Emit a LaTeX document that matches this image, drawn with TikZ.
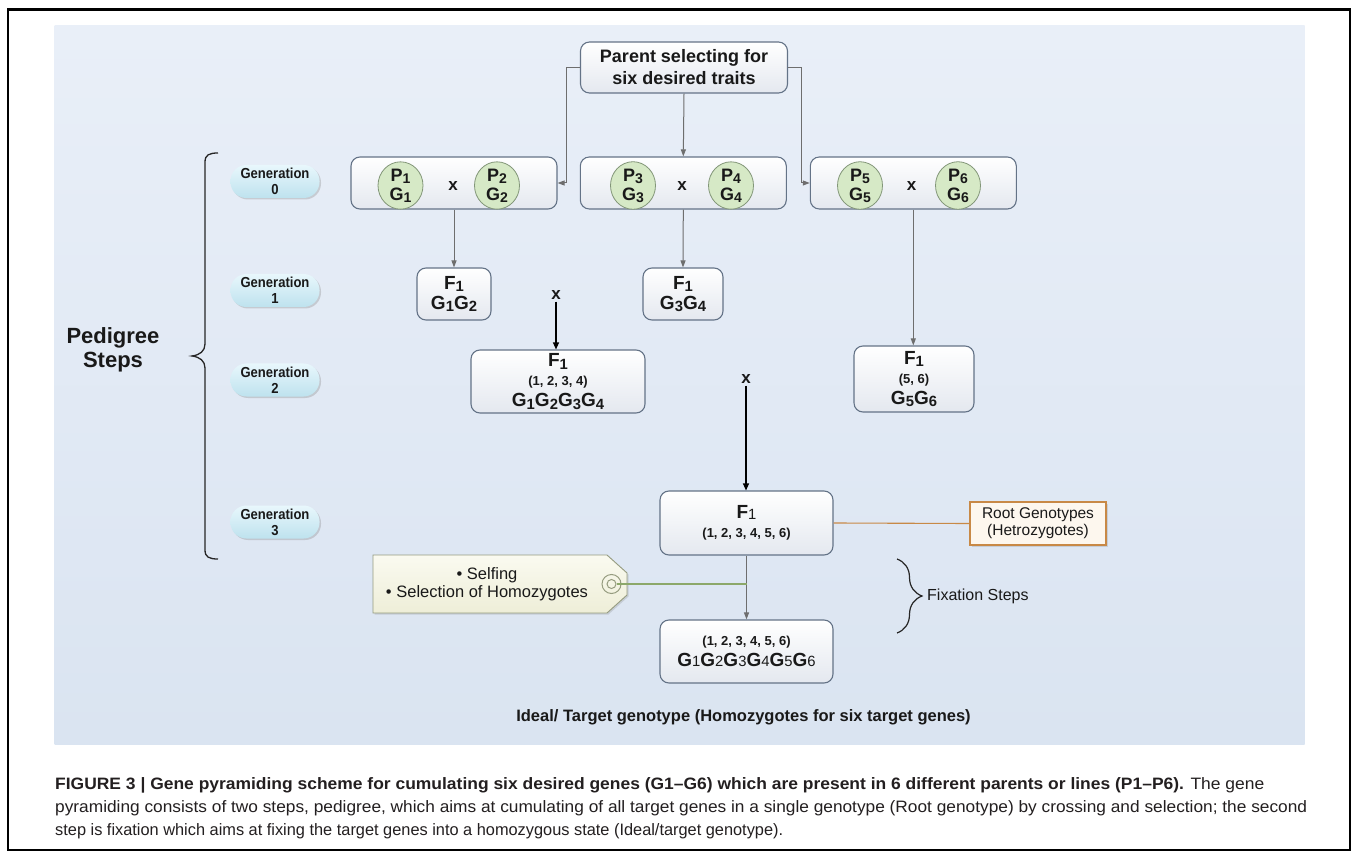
\documentclass[tikz,border=0pt]{standalone}
\usepackage{fontspec}
\setmainfont{Liberation Sans}
\newfontfamily\condfont[FakeStretch=0.9]{Liberation Sans}
\usetikzlibrary{arrows.meta,decorations.pathreplacing,shadows,shapes.geometric}

\definecolor{panelT}{RGB}{233,239,248}
\definecolor{panelB}{RGB}{218,228,241}
\definecolor{boxline}{RGB}{100,115,135}
\definecolor{boxbot}{RGB}{228,232,239}
\definecolor{connc}{RGB}{110,110,110}
\definecolor{circfill}{RGB}{214,233,198}
\definecolor{circline}{RGB}{130,150,120}
\definecolor{genT}{RGB}{232,247,252}
\definecolor{genB}{RGB}{190,226,238}
\definecolor{rootline}{RGB}{200,137,70}
\definecolor{rootfill}{RGB}{253,247,238}
\definecolor{tagT}{RGB}{250,250,240}
\definecolor{tagB}{RGB}{238,238,216}
\definecolor{tagline}{RGB}{150,156,128}
\definecolor{taglink}{RGB}{140,168,106}
\definecolor{captxt}{RGB}{35,31,32}
\definecolor{txt}{RGB}{25,25,25}

\newcommand\dn[1]{\raisebox{-0.22ex}{\scalebox{0.78}{#1}}}
\newcommand\dnr[1]{\raisebox{-0.05ex}{\scalebox{0.78}{\mdseries #1}}}
\newcommand\fsz[2]{\fontsize{#1}{#2}\selectfont}

\tikzset{
  stepbox/.style={draw=boxline, line width=1.1pt, rounded corners=9pt, top color=white,
    bottom color=boxbot, inner sep=0pt, align=center, text=txt, font=\fsz{19}{20}\bfseries},
  pcirc/.style={ellipse, draw=circline, line width=0.8pt, fill=circfill, minimum width=45pt,
    minimum height=40pt, inner sep=0pt, align=center, text=txt, font=\fsz{18}{19}\bfseries},
  genlab/.style={rounded corners=16pt, minimum width=89pt, minimum height=33pt,
    top color=genT, bottom color=genB, align=center, text=txt,
    font=\condfont\fsz{14.5}{16}\bfseries,
    inner sep=0pt, drop shadow={shadow xshift=1.5pt, shadow yshift=-1.5pt, opacity=0.3}},
  conn/.style={draw=connc, line width=1pt, -{Triangle[length=7pt,width=5pt]}},
  xarrow/.style={draw=black, line width=1.2pt, -{Triangle[length=7pt,width=6pt]}},
  crossx/.style={font=\fsz{17}{17}\bfseries, inner sep=0pt, text=txt},
  capline/.style={anchor=base west, inner sep=0pt, text=captxt, font=\fsz{16.5}{16}},
}

\begin{document}
\begin{tikzpicture}[x=1pt,y=-1pt]
\useasboundingbox (0,0) rectangle (1357,858);
\fill[white] (0,0) rectangle (1357,858);
\fill[top color=panelT, bottom color=panelB] (54.5,26) rectangle (1304.6,744);
\draw[line width=2.5pt] (8,9.5) rectangle (1350,850);

% top
\node[stepbox, minimum width=207pt, minimum height=51pt, font=\fsz{18}{22}\bfseries] (parent) at (684,67.5) {Parent selecting for\\six desired traits};

% generation 0
\node[stepbox, minimum width=206pt, minimum height=52pt] (b1) at (454,183) {};
\node[stepbox, minimum width=206pt, minimum height=52pt] (b2) at (683.3,183) {};
\node[stepbox, minimum width=206pt, minimum height=52pt] (b3) at (913.3,183) {};
\node[pcirc] (p1) at (400.5,185.5) {P\dn{1}\\G\dn{1}};
\node[pcirc] (p2) at (497,185.5) {P\dn{2}\\G\dn{2}};
\node[pcirc] (p3) at (633,185.5) {P\dn{3}\\G\dn{3}};
\node[pcirc] (p4) at (731,185.5) {P\dn{4}\\G\dn{4}};
\node[pcirc] (p5) at (860,185.5) {P\dn{5}\\G\dn{5}};
\node[pcirc] (p6) at (958,185.5) {P\dn{6}\\G\dn{6}};
\node[crossx] (x1) at (453,186) {x};
\node[crossx] (x2) at (682,186) {x};
\node[crossx] (x3) at (911.5,186) {x};

% generation labels
\node[genlab] (g0) at (275,181.5) {Generation\\0};
\node[genlab] (g1) at (275,290.5) {Generation\\1};
\node[genlab] (g2) at (275,380) {Generation\\2};
\node[genlab] (g3) at (275,522) {Generation\\3};

% generation 1
\node[stepbox, minimum width=74pt, minimum height=52pt] (f12) at (454,294) {F\dn{1}\\G\dn{1}G\dn{2}};
\node[stepbox, minimum width=80pt, minimum height=52pt] (f34) at (683,294) {F\dn{1}\\G\dn{3}G\dn{4}};

% generation 2
\node[crossx] (x4) at (556,295) {x};
\node[stepbox, minimum width=174pt, minimum height=63pt] (f1234) at (558,381.5)
  {F\dn{1}\\[-1pt]{\fsz{13}{15}(1, 2, 3, 4)}\\[1pt]G\dn{1}G\dn{2}G\dn{3}G\dn{4}};
\node[stepbox, minimum width=120pt, minimum height=66pt] (f56) at (914,379)
  {F\dn{1}\\[-1pt]{\fsz{13}{15}(5, 6)}\\[1pt]G\dn{5}G\dn{6}};

% generation 3
\node[crossx] (x5) at (746,379) {x};
\node[stepbox, minimum width=173pt, minimum height=64pt] (f1all) at (746.5,523)
  {F\dnr{1}\\[-1pt]{\fsz{13}{15}(1, 2, 3, 4, 5, 6)}};
\node[draw=rootline, fill=rootfill, line width=1.1pt, minimum width=136pt, minimum height=43pt,
  inner sep=0pt, align=center, text=txt, font=\fsz{15.5}{17},
  drop shadow={shadow xshift=1.5pt, shadow yshift=-1.5pt, opacity=0.25}] (root) at (1038,523.5)
  {Root Genotypes\\(Hetrozygotes)};

% final
\node[stepbox, minimum width=173pt, minimum height=63pt] (final) at (746.5,651.5)
  {{\fsz{13}{15}(1, 2, 3, 4, 5, 6)}\\[1pt]G\dnr{1}G\dnr{2}G\dnr{3}G\dnr{4}G\dnr{5}G\dnr{6}};

% tag
\draw[top color=tagT, bottom color=tagB, draw=tagline, line width=0.9pt,
  drop shadow={shadow xshift=1.5pt, shadow yshift=-1.5pt, opacity=0.25}]
  (373,555) -- (607,555) -- (627,573) -- (627,595) -- (607,613) -- (373,613) -- cycle;
\node[font=\fsz{16.5}{18}, text=txt, align=center] (tagtext) at (487,584) {• Selfing\\• Selection of Homozygotes};
\node[circle, draw=tagline, line width=1pt, minimum size=19pt, inner sep=0pt] (ring) at (611.5,584) {};
\node[circle, draw=tagline, line width=1pt, minimum size=9pt, inner sep=0pt] (ringin) at (611.5,584) {};

% connectors
\draw[conn] (parent.south) -- (b2.north);
\draw[conn] (parent.west) -- ++(-13,0) |- (b1.east);
\draw[conn] (parent.east) -- ++(13,0) |- (b3.west);
\draw[conn] (b1.south) -- (f12.north);
\draw[conn] (b2.south) -- (f34.north);
\draw[conn] (b3.south) -- (b3.south |- f56.north);
\draw[xarrow, shorten <=2pt] (x4.south) -- (x4.south |- f1234.north);
\draw[xarrow, shorten <=2pt] (x5.south) -- (x5.south |- f1all.north);
\draw[conn] (f1all.south) -- (final.north);
\draw[rootline, line width=1.1pt] (f1all.east) -- (root.west);
\coordinate (tj) at (f1all.south |- ring);
\draw[taglink, line width=1.1pt] (ringin.east) -- (tj);

% braces
\draw[line width=1.3pt, black!85]
  (218,153) .. controls (209,153) and (205,155) .. (205,162) -- (205,344)
  .. controls (205,351) and (200,355) .. (192,356)
  .. controls (200,357) and (205,361) .. (205,368) -- (205,550)
  .. controls (205,557) and (209,559) .. (218,559);
\node[font=\fsz{22}{24}\bfseries, text=txt, align=center] (ped) at (113,350) {Pedigree\\Steps};
\draw[line width=1.2pt, black!85, decorate, decoration={brace, amplitude=25pt}] (897,559) -- (897,633);
\node[font=\fsz{16}{16}, text=txt, anchor=west, inner sep=0pt] (fix) at (927,596) {Fixation Steps};

\node[font=\fsz{16.5}{17}\bfseries, text=txt] (ideal) at (743.5,717) {Ideal/ Target genotype (Homozygotes for six target genes)};

% caption
\node[capline] (cap1) at (55,789) {\resizebox{1209pt}{\height}{\textbf{FIGURE 3 | Gene pyramiding scheme for cumulating six desired genes (G1–G6) which are present in 6 different parents or lines (P1–P6).} The gene}};
\node[capline] (cap2) at (55,812) {\resizebox{1252pt}{\height}{pyramiding consists of two steps, pedigree, which aims at cumulating of all target genes in a single genotype (Root genotype) by crossing and selection; the second}};
\node[capline] (cap3) at (55,835) {\resizebox{728pt}{\height}{step is fixation which aims at fixing the target genes into a homozygous state (Ideal/target genotype).}};
\end{tikzpicture}
\end{document}
